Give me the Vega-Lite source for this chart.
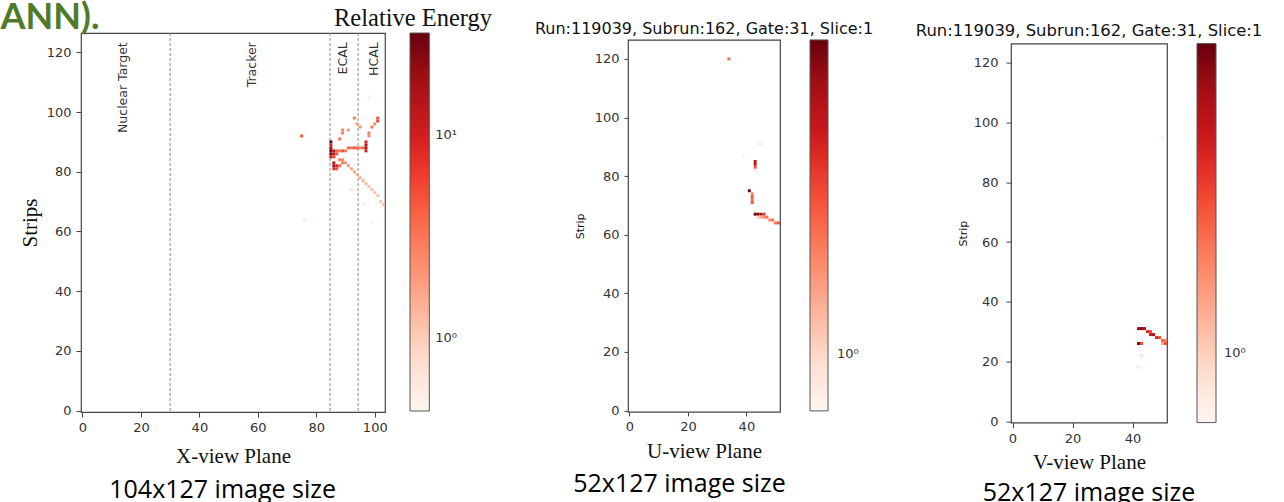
{
  "$schema": "https://vega.github.io/schema/vega-lite/v6.json",
  "padding": 0,
  "background": "white",
  "title": {"text": "ANN).", "anchor": "start", "frame": "bounds", "font": "Lato", "fontSize": 36, "fontWeight": "bold", "color": "#4e7a2a", "offset": 0, "dx": -18, "dy": 34.3},
  "config": {
    "view": {"stroke": "#444", "strokeWidth": 1.2},
    "axis": {"domain": false, "grid": false, "ticks": true, "tickColor": "#444", "tickWidth": 1, "labelFont": "DejaVu Sans", "labelFontSize": 13, "labelColor": "#333", "labelFlush": false, "labelOverlap": false, "titleFont": "Liberation Serif", "titleFontSize": 21, "titleFontWeight": "normal", "titleColor": "#111"},
    "legend": {"labelFont": "DejaVu Sans", "labelFontSize": 13, "labelColor": "#333", "gradientStrokeColor": "#555", "gradientStrokeWidth": 1, "padding": 0},
    "title": {"font": "DejaVu Sans", "fontWeight": "normal", "color": "#111"}
  },
  "datasets": {
    "none": [],
    "sep": [{"x": 30}, {"x": 84.7}, {"x": 94.3}],
    "det": [
      {"x": 13.9, "y": 123.4, "t": "Nuclear Target"},
      {"x": 57.9, "y": 123.4, "t": "Tracker"},
      {"x": 89.2, "y": 123.4, "t": "ECAL"},
      {"x": 99.7, "y": 123.4, "t": "HCAL"}
    ],
    "hitsX": [
      {"x": 75, "y": 92, "e": 5},
      {"x": 76, "y": 64, "e": 0.55}, {"x": 98, "y": 105, "e": 0.55}, {"x": 99, "y": 63, "e": 0.5}, {"x": 96, "y": 69, "e": 0.55}, {"x": 92, "y": 74, "e": 0.6},
      {"x": 85, "y": 90, "e": 31}, {"x": 85, "y": 89, "e": 8}, {"x": 85, "y": 88, "e": 20}, {"x": 85, "y": 87, "e": 28}, {"x": 86, "y": 87, "e": 14}, {"x": 85, "y": 86, "e": 25}, {"x": 86, "y": 86, "e": 12}, {"x": 85, "y": 85, "e": 10}, {"x": 86, "y": 85, "e": 6}, {"x": 87, "y": 86, "e": 5},
      {"x": 87, "y": 87, "e": 4}, {"x": 88, "y": 87, "e": 3}, {"x": 89, "y": 87, "e": 5}, {"x": 90, "y": 87, "e": 3}, {"x": 91, "y": 88, "e": 4}, {"x": 92, "y": 88, "e": 3}, {"x": 93, "y": 88, "e": 5}, {"x": 94, "y": 88, "e": 4}, {"x": 95, "y": 88, "e": 3}, {"x": 96, "y": 88, "e": 4},
      {"x": 97, "y": 87, "e": 10}, {"x": 97, "y": 88, "e": 16}, {"x": 97, "y": 89, "e": 18}, {"x": 97, "y": 90, "e": 9},
      {"x": 86, "y": 83, "e": 14}, {"x": 86, "y": 82, "e": 20}, {"x": 87, "y": 82, "e": 9}, {"x": 86, "y": 81, "e": 8}, {"x": 87, "y": 81, "e": 5}, {"x": 88, "y": 82, "e": 4}, {"x": 89, "y": 83, "e": 3},
      {"x": 88, "y": 84, "e": 3}, {"x": 89, "y": 84, "e": 2.5}, {"x": 90, "y": 83, "e": 2.2}, {"x": 91, "y": 82, "e": 2}, {"x": 92, "y": 81, "e": 1.8}, {"x": 93, "y": 80, "e": 1.8}, {"x": 94, "y": 79, "e": 1.6}, {"x": 95, "y": 78, "e": 1.6}, {"x": 96, "y": 77, "e": 1.5}, {"x": 97, "y": 76, "e": 1.4}, {"x": 98, "y": 75, "e": 1.3}, {"x": 99, "y": 74, "e": 1.3}, {"x": 100, "y": 73, "e": 1.2}, {"x": 101, "y": 72, "e": 1.1}, {"x": 102, "y": 70, "e": 1.1}, {"x": 103, "y": 69, "e": 1.2},
      {"x": 88, "y": 91, "e": 3.5}, {"x": 89, "y": 93, "e": 3}, {"x": 89, "y": 94, "e": 2.5}, {"x": 91, "y": 94, "e": 2}, {"x": 93, "y": 98, "e": 3}, {"x": 94, "y": 96, "e": 2}, {"x": 95, "y": 95, "e": 2.2}, {"x": 98, "y": 92, "e": 2.5}, {"x": 98, "y": 93, "e": 3}, {"x": 99, "y": 95, "e": 3}, {"x": 100, "y": 96, "e": 2.5}, {"x": 101, "y": 97, "e": 6}, {"x": 101, "y": 98, "e": 5}
    ],
    "hitsU": [
      {"x": 34, "y": 120, "e": 2.5},
      {"x": 44, "y": 91, "e": 0.75}, {"x": 45, "y": 91, "e": 0.75},
      {"x": 39, "y": 87, "e": 0.72},
      {"x": 43, "y": 85, "e": 6}, {"x": 43, "y": 84, "e": 5}, {"x": 43, "y": 83, "e": 3}, {"x": 43, "y": 82, "e": 0.75},
      {"x": 41, "y": 75, "e": 9},
      {"x": 42, "y": 74, "e": 2}, {"x": 42, "y": 73, "e": 3}, {"x": 42, "y": 72, "e": 2.5}, {"x": 42, "y": 71, "e": 3},
      {"x": 43, "y": 68, "e": 0.75},
      {"x": 43, "y": 67, "e": 9}, {"x": 44, "y": 67, "e": 9}, {"x": 45, "y": 67, "e": 6}, {"x": 46, "y": 67, "e": 4},
      {"x": 44, "y": 66, "e": 1.2}, {"x": 45, "y": 66, "e": 1.5}, {"x": 46, "y": 66, "e": 2}, {"x": 47, "y": 66, "e": 2.5}, {"x": 48, "y": 65, "e": 2}, {"x": 49, "y": 65, "e": 2.5}, {"x": 50, "y": 64, "e": 2.5}, {"x": 51, "y": 64, "e": 3}
    ],
    "hitsV": [
      {"x": 42, "y": 31, "e": 7}, {"x": 43, "y": 31, "e": 8}, {"x": 44, "y": 31, "e": 6}, {"x": 45, "y": 30, "e": 4}, {"x": 46, "y": 30, "e": 3}, {"x": 46, "y": 29, "e": 5}, {"x": 47, "y": 29, "e": 6}, {"x": 48, "y": 28, "e": 4}, {"x": 49, "y": 28, "e": 3}, {"x": 50, "y": 27, "e": 2.5}, {"x": 51, "y": 27, "e": 2}, {"x": 51, "y": 26, "e": 3}, {"x": 50, "y": 26, "e": 1.5},
      {"x": 42, "y": 26, "e": 8}, {"x": 43, "y": 26, "e": 3}, {"x": 43, "y": 22, "e": 0.8}, {"x": 42, "y": 18, "e": 0.75}, {"x": 50, "y": 95, "e": 0.65}
    ]
  },
  "resolve": {"scale": {"x": "independent", "y": "independent", "color": "independent"}, "legend": {"color": "independent"}, "axis": {"x": "independent", "y": "independent"}},
  "spacing": 41,
  "hconcat": [
    {
      "title": {"text": "104x127 image size", "orient": "bottom", "anchor": "middle", "font": "Open Sans", "fontSize": 25, "fontWeight": "normal", "color": "#000", "offset": 11.2, "dx": -33},
      "resolve": {"scale": {"color": "independent"}, "legend": {"color": "independent"}},
      "spacing": 0,
      "vconcat": [
        {"width": 304, "height": 1, "view": {"stroke": null}, "data": {"name": "none"}, "mark": "point"},
        {
          "title": {"text": "Relative Energy\u00a0", "anchor": "end", "frame": "bounds", "font": "Liberation Serif", "fontSize": 24.5, "fontWeight": "normal", "color": "#111", "offset": 1.5, "dx": 34.1},
          "width": 304,
          "height": 379,
          "layer": [
            {
              "data": {"name": "sep"},
              "mark": {"type": "rule", "strokeDash": [3, 2], "color": "#8a8a8a", "strokeWidth": 1},
              "encoding": {
                "x": {"field": "x", "type": "quantitative", "scale": {"domain": [-0.5, 103.5], "nice": false, "zero": false}, "axis": {"values": [0, 20, 40, 60, 80, 100], "title": "X-view Plane", "titlePadding": 11, "tickSize": 5, "labelPadding": 4}}
              }
            },
            {
              "data": {"name": "det"},
              "mark": {"type": "text", "angle": 270, "align": "right", "baseline": "middle", "font": "DejaVu Sans", "fontSize": 12.5, "color": "#333"},
              "encoding": {
                "x": {"field": "x", "type": "quantitative", "scale": {"domain": [-0.5, 103.5], "nice": false, "zero": false}, "axis": {"values": [0, 20, 40, 60, 80, 100], "title": "X-view Plane", "titlePadding": 11, "tickSize": 5, "labelPadding": 4}},
                "y": {"field": "y", "type": "quantitative", "scale": {"domain": [-0.5, 126.5], "nice": false, "zero": false}, "axis": {"values": [0, 20, 40, 60, 80, 100, 120], "title": "Strips", "titlePadding": 6, "tickSize": 5, "labelPadding": 5}},
                "text": {"field": "t"}
              }
            },
            {
              "data": {"name": "hitsX"},
              "mark": {"type": "square", "size": 8.7, "opacity": 1, "filled": true, "strokeWidth": 0},
              "encoding": {
                "x": {"field": "x", "type": "quantitative", "scale": {"domain": [-0.5, 103.5], "nice": false, "zero": false}, "axis": {"values": [0, 20, 40, 60, 80, 100], "title": "X-view Plane", "titlePadding": 11, "tickSize": 5, "labelPadding": 4}},
                "y": {"field": "y", "type": "quantitative", "scale": {"domain": [-0.5, 126.5], "nice": false, "zero": false}, "axis": {"values": [0, 20, 40, 60, 80, 100, 120], "title": "Strips", "titlePadding": 6, "tickSize": 5, "labelPadding": 5}},
                "color": {"field": "e", "type": "quantitative", "scale": {"type": "log", "domain": [0.435, 0.7436, 1.271, 2.173, 3.713, 6.346, 10.85, 18.55, 31.7], "range": ["#fff5f0", "#fee0d2", "#fcbba1", "#fc9272", "#fb6a4a", "#ef3b2c", "#cb181d", "#a50f15", "#67000d"], "interpolate": "rgb", "clamp": true}, "legend": {"title": null, "orient": "right", "offset": 24.7, "direction": "vertical", "gradientLength": 378, "gradientThickness": 19.3, "values": [1, 10], "labelExpr": "datum.value == 1 ? '10⁰' : '10¹'", "labelOffset": 6}}
              }
            }
          ]
        }
      ]
    },
    {
      "title": {"text": "52x127 image size", "orient": "bottom", "anchor": "middle", "font": "Open Sans", "fontSize": 25, "fontWeight": "normal", "color": "#000", "offset": 10, "dx": -24.5},
      "resolve": {"scale": {"color": "independent"}, "legend": {"color": "independent"}},
      "spacing": 15.9,
      "vconcat": [
        {"width": 152, "height": 1, "view": {"stroke": null}, "data": {"name": "none"}, "mark": "point"},
        {
          "title": {"text": "Run:119039, Subrun:162, Gate:31, Slice:1", "anchor": "middle", "frame": "group", "font": "DejaVu Sans", "fontSize": 16, "fontWeight": "normal", "color": "#111", "offset": 3.3},
          "width": 152,
          "height": 372,
          "data": {"name": "hitsU"},
          "mark": {"type": "square", "size": 8.6, "opacity": 1, "filled": true, "strokeWidth": 0},
          "encoding": {
            "x": {"field": "x", "type": "quantitative", "scale": {"domain": [-0.5, 51.5], "nice": false, "zero": false}, "axis": {"values": [0, 20, 40], "title": "U-view Plane", "titlePadding": 6.5, "tickSize": 4, "labelPadding": 5}},
            "y": {"field": "y", "type": "quantitative", "scale": {"domain": [-0.5, 126.5], "nice": false, "zero": false}, "axis": {"values": [0, 20, 40, 60, 80, 100, 120], "title": "Strip", "titleFont": "DejaVu Sans", "titleFontSize": 11, "titlePadding": 9, "tickSize": 4, "labelPadding": 5}},
            "color": {"field": "e", "type": "quantitative", "scale": {"type": "log", "domain": [0.664, 0.9256, 1.29, 1.798, 2.506, 3.494, 4.87, 6.788, 9.46], "range": ["#fff5f0", "#fee0d2", "#fcbba1", "#fc9272", "#fb6a4a", "#ef3b2c", "#cb181d", "#a50f15", "#67000d"], "interpolate": "rgb", "clamp": true}, "legend": {"title": null, "orient": "right", "offset": 29.5, "direction": "vertical", "gradientLength": 371, "gradientThickness": 18, "values": [1], "labelExpr": "'10⁰'", "labelOffset": 9}}
          }
        }
      ]
    },
    {
      "title": {"text": "52x127 image size", "orient": "bottom", "anchor": "middle", "font": "Open Sans", "fontSize": 25, "fontWeight": "normal", "color": "#000", "offset": 7.6, "dx": 0},
      "resolve": {"scale": {"color": "independent"}, "legend": {"color": "independent"}},
      "spacing": 18.6,
      "vconcat": [
        {"width": 156, "height": 1, "view": {"stroke": null}, "data": {"name": "none"}, "mark": "point"},
        {
          "title": {"text": "Run:119039, Subrun:162, Gate:31, Slice:1", "anchor": "middle", "frame": "group", "font": "DejaVu Sans", "fontSize": 16.4, "fontWeight": "normal", "color": "#111", "offset": 3.9},
          "width": 156,
          "height": 379,
          "data": {"name": "hitsV"},
          "mark": {"type": "square", "size": 9, "opacity": 1, "filled": true, "strokeWidth": 0},
          "encoding": {
            "x": {"field": "x", "type": "quantitative", "scale": {"domain": [-0.5, 51.5], "nice": false, "zero": false}, "axis": {"values": [0, 20, 40], "title": "V-view Plane", "titlePadding": 6, "tickSize": 5, "labelPadding": 5}},
            "y": {"field": "y", "type": "quantitative", "scale": {"domain": [-0.5, 126.5], "nice": false, "zero": false}, "axis": {"values": [0, 20, 40, 60, 80, 100, 120], "title": "Strip", "titleFont": "DejaVu Sans", "titleFontSize": 11, "titlePadding": 5, "tickSize": 5, "labelPadding": 8}},
            "color": {"field": "e", "type": "quantitative", "scale": {"type": "log", "domain": [0.6, 0.8497, 1.203, 1.704, 2.413, 3.417, 4.838, 6.852, 9.7], "range": ["#fff5f0", "#fee0d2", "#fcbba1", "#fc9272", "#fb6a4a", "#ef3b2c", "#cb181d", "#a50f15", "#67000d"], "interpolate": "rgb", "clamp": true}, "legend": {"title": null, "orient": "right", "offset": 30, "direction": "vertical", "gradientLength": 379, "gradientThickness": 19, "values": [1], "labelExpr": "'10⁰'", "labelOffset": 8}}
          }
        }
      ]
    }
  ]
}
